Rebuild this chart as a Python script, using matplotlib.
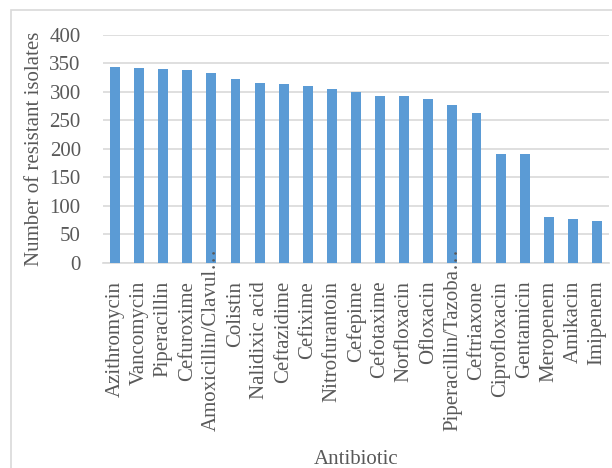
import matplotlib.pyplot as plt
from matplotlib.patches import Rectangle
from matplotlib.transforms import ScaledTranslation

plt.rcParams['font.family'] = ['Liberation Serif', 'DejaVu Serif']

# resistant isolates per antibiotic
antibiotics = ['Azithromycin', 'Vancomycin', 'Piperacillin', 'Cefuroxime',
               'Amoxicillin/Clavul\u2026', 'Colistin', 'Nalidixic acid',
               'Ceftazidime', 'Cefixime', 'Nitrofurantoin', 'Cefepime',
               'Cefotaxime', 'Norfloxacin', 'Ofloxacin',
               'Piperacillin/Tazoba\u2026', 'Ceftriaxone', 'Ciprofloxacin',
               'Gentamicin', 'Meropenem', 'Amikacin', 'Imipenem']
resistant = [344, 341, 340, 338, 332, 322, 315, 314, 310, 305, 300,
             292, 292, 288, 276, 262, 191, 190, 80, 77, 73]
yticks = [0, 50, 100, 150, 200, 250, 300, 350, 400]

text_col = '#595959'
grid_col = '#D9D9D9'

fig = plt.figure(figsize=(6.12, 4.68), dpi=100)
ax = fig.add_axes([103/612, 1 - 262.7/468, 506/612, 228/468])

x = range(len(antibiotics))
ax.bar(x, resistant, width=0.41, color='#5B9BD5', zorder=3)

ax.set_ylim(0, 400)
ax.set_xlim(-0.5, len(antibiotics) - 0.5)
ax.set_yticks(yticks)
ax.set_yticklabels([str(v) for v in yticks], fontsize=15, color=text_col)
ax.set_xticks(list(x))
ax.tick_params(axis='both', length=0)
ax.tick_params(axis='y', pad=16)
ax.tick_params(axis='x', pad=13)
ax.set_xticklabels(antibiotics, rotation=90, fontsize=15, color=text_col)
ax.xaxis.set_zorder(4)  # keep label dots above the bars

# truncated names sit higher, their dots reaching up past the axis
for lab in ax.get_xticklabels():
    if lab.get_text().endswith('\u2026'):
        lab.set_transform(lab.get_transform() +
                          ScaledTranslation(0, 0.33, fig.dpi_scale_trans))

ax.grid(axis='y', color=grid_col, linewidth=1.2, zorder=0)
for s in ['top', 'right', 'left']:
    ax.spines[s].set_visible(False)
ax.spines['bottom'].set_color(grid_col)
ax.spines['bottom'].set_linewidth(1.2)

fig.text(35/612, 1 - 148.7/468, 'Number of resistant isolates',
         rotation=90, ha='center', va='center', fontsize=15, color=text_col)
fig.text(356/612, 1 - 464/468, 'Antibiotic', ha='center', va='baseline',
         fontsize=15, color=text_col)

# chart border
fig.patches.append(Rectangle((11/612, -0.1), 1.1, 1.1 - 10/468,
                             transform=fig.transFigure, fill=False,
                             edgecolor='#D9D9D9', linewidth=1.2))

fig.savefig('out.png', dpi=100)
